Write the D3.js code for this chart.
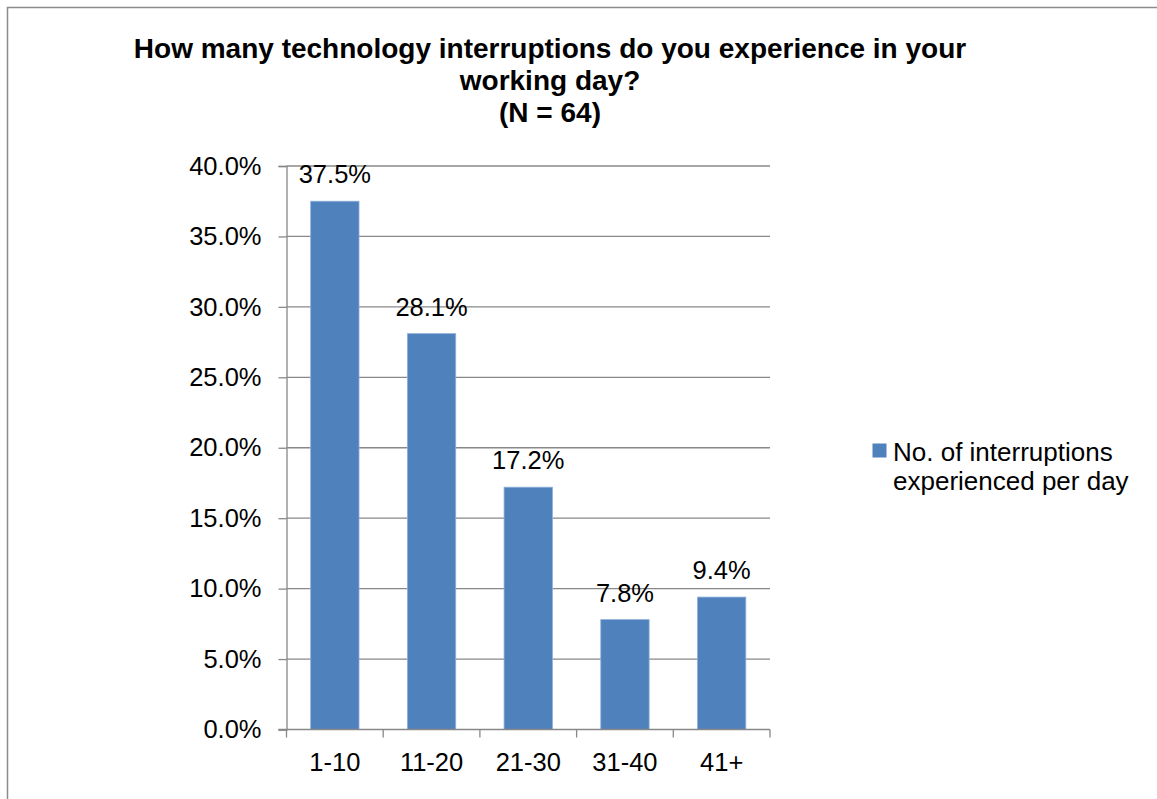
<!DOCTYPE html>
<html>
<head>
<meta charset="utf-8">
<script src="https://cdn.jsdelivr.net/npm/d3@7"></script>
<style>
  html, body { margin: 0; padding: 0; background: #fff; }
  svg { display: block; }
  text { font-family: "Liberation Sans", Arial, sans-serif; fill: #000; }
</style>
</head>
<body>
<svg id="chart" width="1157" height="799"></svg>
<script>
// Survey results: share of respondents by number of interruptions per day
const categories = ["1-10", "11-20", "21-30", "31-40", "41+"];
const values = [37.5, 28.1, 17.2, 7.8, 9.4];
const yTicks = [0, 5, 10, 15, 20, 25, 30, 35, 40];
const titleLines = [
  "How many technology interruptions do you experience in your",
  "working day?",
  "(N = 64)"
];
const seriesName = ["No. of interruptions", "experienced per day"];

const svg = d3.select("#chart");
const W = 1157, H = 799;
const margin = { left: 286.5, right: 1157 - 770, top: 166, bottom: 799 - 729.5 };
const barColor = "#4F81BD";
const gridColor = "#888888";
const labelSize = 25.5;

// Outer chart frame (only top and left edges fall within view)
svg.append("path")
  .attr("d", `M7.5,${H} V7.5 H${W}`)
  .attr("fill", "none")
  .attr("stroke", "#8c8c8c")
  .attr("stroke-width", 1.5);

const x = d3.scaleBand()
  .domain(categories)
  .range([margin.left, W - margin.right])
  .paddingInner(0.5)
  .paddingOuter(0.25);

const y = d3.scaleLinear()
  .domain([0, 40])
  .range([H - margin.bottom, margin.top]);

// Horizontal gridlines
svg.append("g")
  .selectAll("line")
  .data(yTicks.filter(d => d > 0))
  .join("line")
  .attr("x1", margin.left)
  .attr("x2", W - margin.right)
  .attr("y1", d => y(d))
  .attr("y2", d => y(d))
  .attr("stroke", gridColor)
  .attr("stroke-width", 1.3);

// Bars
svg.append("g")
  .selectAll("rect")
  .data(values)
  .join("rect")
  .attr("x", (d, i) => x(categories[i]))
  .attr("width", x.bandwidth())
  .attr("y", d => y(d))
  .attr("height", d => y(0) - y(d))
  .attr("fill", barColor)
  .attr("stroke", "#8fb0da")
  .attr("stroke-width", 0.8);

// Value labels
svg.append("g")
  .selectAll("text")
  .data(values)
  .join("text")
  .attr("x", (d, i) => x(categories[i]) + x.bandwidth() / 2)
  .attr("y", d => y(d) - 18)
  .attr("text-anchor", "middle")
  .attr("font-size", labelSize)
  .text(d => d.toFixed(1) + "%");

// Y axis
const yAxis = d3.axisLeft(y)
  .tickValues(yTicks)
  .tickSize(8)
  .tickPadding(17)
  .tickFormat(d => d.toFixed(1) + "%");
const gy = svg.append("g")
  .attr("transform", `translate(${margin.left},0)`)
  .call(yAxis);
gy.select(".domain").attr("stroke", gridColor).attr("stroke-width", 1.3);
gy.selectAll(".tick line").attr("stroke", gridColor).attr("stroke-width", 1.3);
gy.selectAll(".tick text")
  .attr("font-size", labelSize)
  .attr("font-family", "Liberation Sans, Arial, sans-serif")
  .attr("fill", "#000");

// X axis with tick marks at category boundaries
const xAxisY = y(0);
svg.append("line")
  .attr("x1", margin.left - 8)
  .attr("x2", W - margin.right)
  .attr("y1", xAxisY)
  .attr("y2", xAxisY)
  .attr("stroke", gridColor)
  .attr("stroke-width", 1.3);

const step = x.step();
const boundaries = d3.range(categories.length + 1).map(i => margin.left + i * step);
svg.append("g")
  .selectAll("line")
  .data(boundaries)
  .join("line")
  .attr("x1", d => d)
  .attr("x2", d => d)
  .attr("y1", xAxisY)
  .attr("y2", xAxisY + 8)
  .attr("stroke", gridColor)
  .attr("stroke-width", 1.3);

svg.append("g")
  .selectAll("text")
  .data(categories)
  .join("text")
  .attr("x", d => x(d) + x.bandwidth() / 2)
  .attr("y", xAxisY + 41)
  .attr("text-anchor", "middle")
  .attr("font-size", labelSize)
  .text(d => d);

// Title
svg.append("g")
  .selectAll("text")
  .data(titleLines)
  .join("text")
  .attr("x", 550)
  .attr("y", (d, i) => 57.5 + i * 32)
  .attr("text-anchor", "middle")
  .attr("font-size", 28)
  .attr("font-weight", "bold")
  .text(d => d);

// Legend
const legend = svg.append("g");
legend.append("rect")
  .attr("x", 872.5)
  .attr("y", 443.5)
  .attr("width", 14)
  .attr("height", 14)
  .attr("fill", barColor);
legend.selectAll("text")
  .data(seriesName)
  .join("text")
  .attr("x", 893)
  .attr("y", (d, i) => 460.5 + i * 29.5)
  .attr("font-size", 26)
  .text(d => d);
</script>
</body>
</html>
